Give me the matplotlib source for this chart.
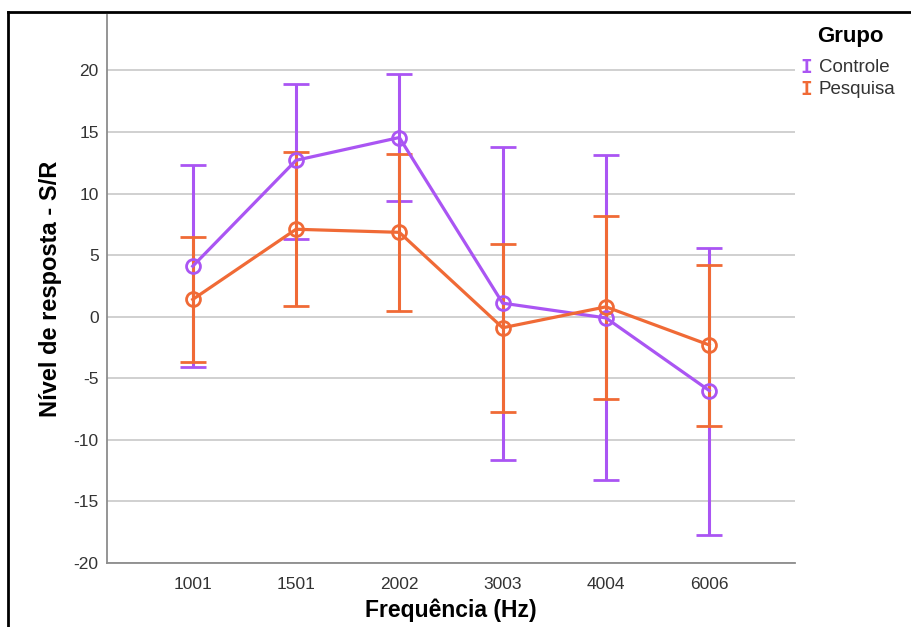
import matplotlib.pyplot as plt
from matplotlib.lines import Line2D

freqs = ['1001', '1501', '2002', '3003', '4004', '6006']

controle_mean = [4.1, 12.7, 14.55, 1.1, -0.1, -6.0]
controle_upper = [12.3, 18.9, 19.7, 13.8, 13.1, 5.6]
controle_lower = [-4.1, 6.3, 9.4, -11.6, -13.3, -17.7]

pesquisa_mean = [1.4, 7.1, 6.85, -0.9, 0.8, -2.3]
pesquisa_upper = [6.45, 13.4, 13.25, 5.9, 8.15, 4.2]
pesquisa_lower = [-3.7, 0.85, 0.45, -7.75, -6.7, -8.9]

groups = ['Controle', 'Pesquisa']
colors = ['#aa55f3', '#f06a36']

plt.rcParams['font.family'] = ['Liberation Sans', 'DejaVu Sans']
plt.rcParams['axes.unicode_minus'] = False

fig = plt.figure(figsize=(9.12, 6.27), dpi=100)
ax = fig.add_axes([0.1173, 0.1021, 0.7544, 0.874])

x = list(range(len(freqs)))
series = [(controle_mean, controle_lower, controle_upper),
          (pesquisa_mean, pesquisa_lower, pesquisa_upper)]
for (mean, lo, hi), col in zip(series, colors):
    err = [[m - l for m, l in zip(mean, lo)], [h - m for m, h in zip(mean, hi)]]
    ax.errorbar(x, mean, yerr=err, color=col, lw=2.3, elinewidth=2.2,
                capsize=9.3, capthick=2.2, marker='o', markersize=10,
                markerfacecolor='none', markeredgewidth=2.0, zorder=3)

ax.set_xlim(-0.83, 5.83)
ax.set_ylim(-20, 24.5)
ax.set_yticks(range(-20, 21, 5))
ax.set_xticks(x)
ax.set_xticklabels(freqs)
ax.tick_params(length=0, labelsize=12.5, labelcolor='#333333', pad=6)
ax.tick_params(axis='x', pad=10)
ax.grid(axis='y', color='#c4c4c4', lw=1.1)
ax.set_axisbelow(True)
for s in ['top', 'right']:
    ax.spines[s].set_visible(False)
for s in ['left', 'bottom']:
    ax.spines[s].set_color('#8c8c8c')
    ax.spines[s].set_linewidth(1.3)

ax.set_xlabel('Frequência (Hz)', fontsize=16.5, fontweight='bold', labelpad=5)
ax.set_ylabel('Nível de resposta - S/R', fontsize=17, fontweight='bold', labelpad=8)

# legend drawn as figure text
fig.text(0.932, 0.941, 'Grupo', fontsize=16, fontweight='bold', ha='center', va='center')
for i, (g, col) in enumerate(zip(groups, colors)):
    yy = 0.893 - i * 0.036
    fig.text(0.884, yy, 'I', color=col, fontsize=14, fontweight='bold',
             family='DejaVu Sans Mono', ha='center', va='center')
    fig.text(0.898, yy, g, fontsize=13.5, color='#333333', ha='left', va='center')

# outer frame
fig.add_artist(Line2D([0.009, 0.009], [0, 0.981], color='black', lw=2, transform=fig.transFigure))
fig.add_artist(Line2D([0.009, 1.0], [0.981, 0.981], color='black', lw=2, transform=fig.transFigure))

fig.savefig('out.png', dpi=100)
